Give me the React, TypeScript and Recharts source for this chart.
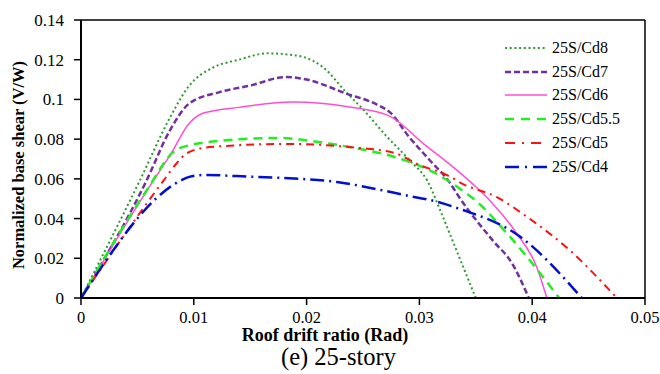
import { LineChart, Line, XAxis, YAxis, ReferenceLine } from 'recharts';

// Roof drift ratio (x) and normalized base shear (y) per model
const cd8Drift = [0, 0.0052, 0.0079, 0.0096, 0.0117, 0.014, 0.0165, 0.018, 0.0197, 0.0215, 0.0235, 0.025, 0.027, 0.0291, 0.0307, 0.032, 0.033, 0.034, 0.035];
const cd8Shear = [0, 0.059, 0.091, 0.107, 0.116, 0.12, 0.1232, 0.1228, 0.1214, 0.116, 0.1037, 0.095, 0.082, 0.0695, 0.059, 0.042, 0.028, 0.014, 0];

const cd7Drift = [0, 0.0058, 0.0079, 0.0096, 0.0123, 0.015, 0.0182, 0.02, 0.0235, 0.0262, 0.0274, 0.0291, 0.0309, 0.0327, 0.0335, 0.0365, 0.0382, 0.0397];
const cd7Shear = [0, 0.059, 0.0846, 0.098, 0.1037, 0.107, 0.1113, 0.11, 0.103, 0.0975, 0.0935, 0.081, 0.0695, 0.058, 0.051, 0.029, 0.0176, 0];

const cd6Drift = [0, 0.0064, 0.0079, 0.0096, 0.0108, 0.014, 0.0188, 0.0238, 0.0274, 0.0303, 0.0335, 0.035, 0.0362, 0.0386, 0.0404, 0.0413];
const cd6Shear = [0, 0.059, 0.072, 0.088, 0.093, 0.096, 0.0987, 0.0962, 0.0915, 0.078, 0.0635, 0.056, 0.0494, 0.0327, 0.0156, 0];

const cd55Drift = [0, 0.0058, 0.0083, 0.009, 0.0132, 0.0176, 0.0205, 0.0238, 0.0278, 0.0312, 0.0335, 0.035, 0.038, 0.0424];
const cd55Shear = [0, 0.054, 0.074, 0.076, 0.0796, 0.0806, 0.079, 0.076, 0.071, 0.0635, 0.0554, 0.049, 0.031, 0];

const cd5Drift = [0, 0.0073, 0.0085, 0.0094, 0.0114, 0.0185, 0.0238, 0.0278, 0.03, 0.0324, 0.034, 0.0368, 0.0395, 0.0433, 0.0475];
const cd5Shear = [0, 0.059, 0.068, 0.073, 0.076, 0.0776, 0.076, 0.073, 0.067, 0.062, 0.057, 0.051, 0.041, 0.0242, 0];

const cd4Drift = [0, 0.0088, 0.0096, 0.0111, 0.0138, 0.018, 0.0227, 0.0269, 0.0294, 0.0309, 0.0335, 0.0389, 0.0444];
const cd4Shear = [0, 0.059, 0.061, 0.062, 0.0614, 0.0604, 0.0584, 0.054, 0.051, 0.0494, 0.045, 0.031, 0];

const xTicks = [0, 0.01, 0.02, 0.03, 0.04, 0.05];
const yTicks = [0, 0.02, 0.04, 0.06, 0.08, 0.1, 0.12, 0.14];

const zip = (xs: number[], ys: number[]) => xs.map((x, i) => ({ x, y: ys[i] }));

const series = [
  { name: '25S/Cd8', data: zip(cd8Drift, cd8Shear), color: '#2e9b2e', width: 2, dash: '2 2.7', legendDash: '2 2.7' },
  { name: '25S/Cd7', data: zip(cd7Drift, cd7Shear), color: '#7030a0', width: 2.5, dash: '6 3', legendDash: '6 3' },
  { name: '25S/Cd6', data: zip(cd6Drift, cd6Shear), color: '#ff4fd0', width: 1.5, dash: undefined, legendDash: undefined },
  { name: '25S/Cd5.5', data: zip(cd55Drift, cd55Shear), color: '#22ee22', width: 2.5, dash: '9 6', legendDash: '9 7' },
  { name: '25S/Cd5', data: zip(cd5Drift, cd5Shear), color: '#ff1010', width: 2, dash: '8 5 2 5', legendDash: '10 7 2 7' },
  { name: '25S/Cd4', data: zip(cd4Drift, cd4Shear), color: '#0010cc', width: 2.5, dash: '14 5 2 5', legendDash: '14 6 2 6' },
];

const serif = '"Liberation Serif", "Times New Roman", serif';
const fmt = (v: number) => String(+v.toFixed(2));

function LegendBox() {
  return (
    <div style={{ position: 'absolute', left: 505, top: 36, fontFamily: serif, fontSize: 16, color: '#000' }}>
      {series.map(s => (
        <div key={s.name} style={{ display: 'flex', alignItems: 'center', height: 23.8 }}>
          <svg width={46} height={6} style={{ marginRight: 1 }}>
            <line x1={0} y1={3} x2={42} y2={3} stroke={s.color} strokeWidth={s.width} strokeDasharray={s.legendDash} />
          </svg>
          <span>{s.name}</span>
        </div>
      ))}
    </div>
  );
}

export default function App() {
  return (
    <div style={{ position: 'absolute', left: 0, top: 0, width: 660, height: 374, background: '#fff' }}>
      <LineChart width={660} height={374} margin={{ top: 20, right: 15, bottom: 46, left: 0 }}>
        <XAxis dataKey="x" type="number" domain={[0, 0.05]} ticks={xTicks} tickFormatter={fmt} height={30}
          allowDuplicatedCategory={false} tickSize={7} tickMargin={6} interval={0}
          axisLine={{ stroke: '#000', strokeWidth: 2 }} tickLine={{ stroke: '#000', strokeWidth: 1.5 }}
          tick={{ fill: '#000', fontSize: 16.5, fontFamily: serif }} />
        <YAxis dataKey="y" type="number" domain={[0, 0.14]} ticks={yTicks} tickFormatter={fmt} width={81}
          tickSize={7} tickMargin={10} interval={0}
          axisLine={{ stroke: '#000', strokeWidth: 2 }} tickLine={{ stroke: '#000', strokeWidth: 1.5 }}
          tick={{ fill: '#000', fontSize: 17, fontFamily: serif }} />
        <ReferenceLine y={0.14} stroke="#000" strokeWidth={1.5} />
        <ReferenceLine x={0.05} stroke="#000" strokeWidth={1.5} />
        {series.map(s => (
          <Line key={s.name} data={s.data} dataKey="y" name={s.name} type="monotone" stroke={s.color}
            strokeWidth={s.width} strokeDasharray={s.dash} dot={false} activeDot={false} isAnimationActive={false} />
        ))}
      </LineChart>
      <LegendBox />
      <div style={{ position: 'absolute', left: 0, width: 650, top: 327, textAlign: 'center', fontFamily: serif, fontWeight: 'bold', fontSize: 18, lineHeight: '17px' }}>
        Roof drift ratio (Rad)
      </div>
      <div style={{ position: 'absolute', left: 0, width: 677, top: 345, textAlign: 'center', fontFamily: serif, fontSize: 24.5, lineHeight: '24px' }}>
        (e) 25-story
      </div>
      <div style={{ position: 'absolute', left: 19, top: 165, transform: 'translate(-50%, -50%) rotate(-90deg)', whiteSpace: 'nowrap', fontFamily: serif, fontWeight: 'bold', fontSize: 16.5 }}>
        Normalized base shear (V/W)
      </div>
    </div>
  );
}
